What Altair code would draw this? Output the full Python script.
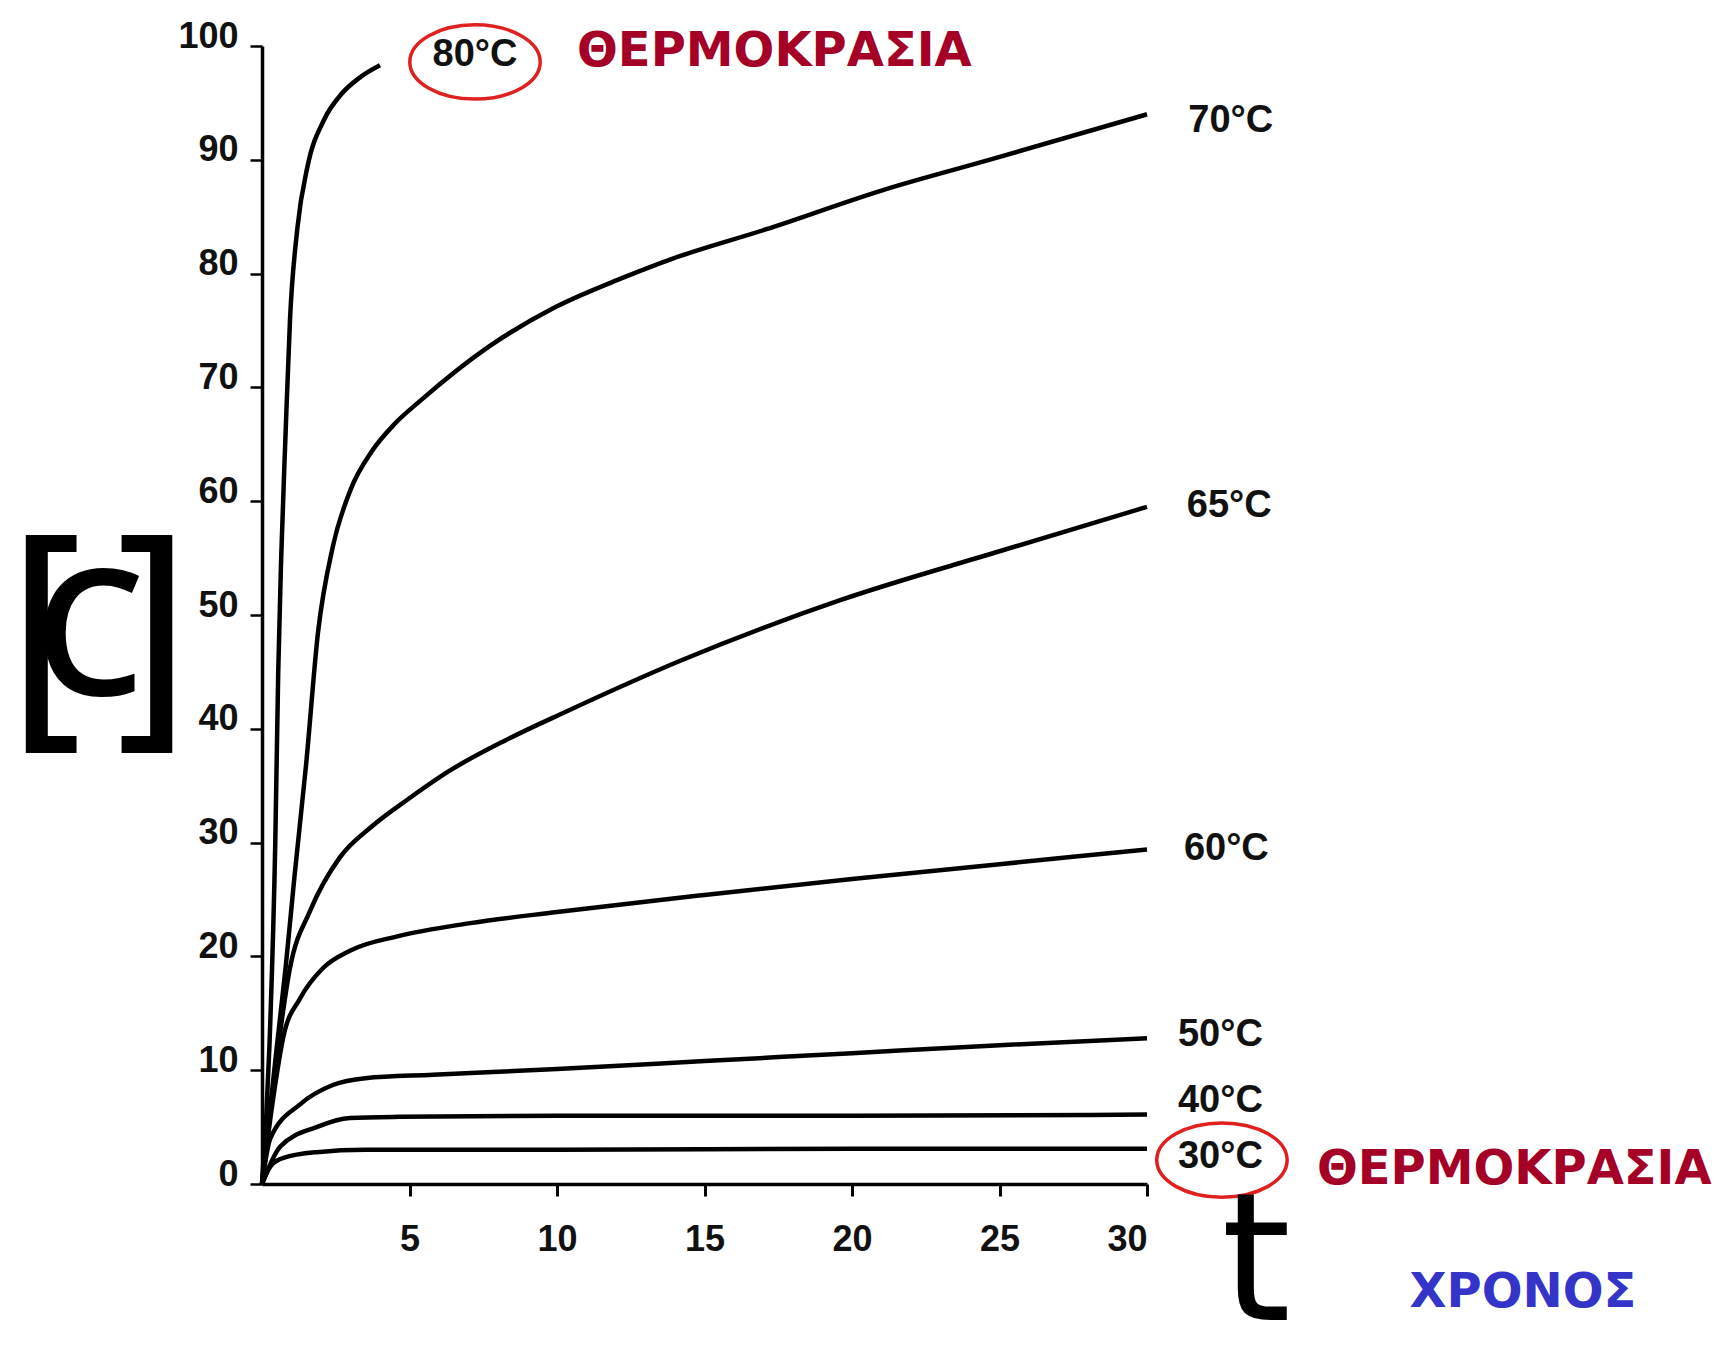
import altair as alt
import pandas as pd

# ---- curve data (time t, concentration C) ----
t80 = [0, 0.25, 0.45, 0.55, 0.65, 0.8, 0.95, 1.2, 1.55, 2.1, 2.7, 3.3, 4.0]
c80 = [0, 12, 30, 45, 55, 66, 76, 84, 89.5, 93.5, 95.8, 97.2, 98.3]

t70 = [0, 0.5, 0.8, 1.1, 1.5, 1.9, 2.4, 3.0, 3.7, 4.5, 5.4, 7.7, 9.9, 12.2, 13.9, 17.1, 21.0, 24.8, 30.0]
c70 = [0, 12, 19, 27, 37, 48.5, 56, 61, 64.3, 66.8, 68.9, 73.6, 77.0, 79.6, 81.3, 83.9, 87.3, 90.1, 94.0]

t65 = [0, 0.4, 0.95, 1.63, 2.64, 3.76, 4.89, 6.35, 8.26, 10.3, 14.2, 19.6, 25.0, 30.0]
c65 = [0, 9, 19, 24, 28.7, 31.5, 33.7, 36.3, 39.0, 41.5, 46, 51.3, 55.6, 59.5]

t60 = [0, 0.35, 0.73, 1.29, 2.08, 2.98, 4.66, 7.0, 10.0, 15.0, 20.0, 25.0, 30.0]
c60 = [0, 7, 13, 16.3, 19, 20.5, 21.8, 22.9, 23.9, 25.4, 26.8, 28.1, 29.4]

t50 = [0, 0.28, 1.29, 2.4, 3.5, 5.8, 10.0, 15.0, 20.0, 25.0, 30.0]
c50 = [0, 4, 7, 8.7, 9.3, 9.6, 10.1, 10.8, 11.5, 12.2, 12.8]

t40 = [0, 0.62, 1.85, 2.98, 4.66, 10.0, 20.0, 30.0]
c40 = [0, 3.3, 5.0, 5.8, 5.9, 6.0, 6.0, 6.1]

t30 = [0, 0.3, 0.73, 1.85, 3.5, 10.0, 20.0, 30.0]
c30 = [0, 1.6, 2.3, 2.8, 3.0, 3.0, 3.1, 3.1]

series = {"80°C": (t80, c80), "70°C": (t70, c70), "65°C": (t65, c65),
          "60°C": (t60, c60), "50°C": (t50, c50), "40°C": (t40, c40),
          "30°C": (t30, c30)}

# curve labels
lab_text = ["80°C", "70°C", "65°C", "60°C", "50°C", "40°C", "30°C"]
lab_x = [7.22, 31.4, 31.35, 31.25, 31.05, 31.05, 31.05]
lab_y = [99.2, 93.4, 59.6, 29.4, 13.1, 7.3, 2.4]
lab_align = ["center", "left", "left", "left", "left", "left", "left"]

# red ellipses around two labels
ell_x = [7.22, 32.54]
ell_y = [98.6, 2.1]

x_ticks = [5, 10, 15, 20, 25, 30]
y_ticks = [0, 10, 20, 30, 40, 50, 60, 70, 80, 90, 100]

rows = []
for name, (ts, cs) in series.items():
    for t, c in zip(ts, cs):
        rows.append({"series": name, "t": t, "c": c})
df = pd.DataFrame(rows)

labels_df = pd.DataFrame({"text": lab_text, "x": lab_x, "y": lab_y, "align": lab_align})
ell_df = pd.DataFrame({"x": ell_x, "y": ell_y})

xs = alt.Scale(domain=[0, 30], nice=False, zero=False)
ys = alt.Scale(domain=[0, 100], nice=False, zero=False)

lines = alt.Chart(df).mark_line(color="black", strokeWidth=4.5, interpolate="monotone").encode(
    x=alt.X("t:Q", scale=xs, axis=alt.Axis(
        values=x_ticks, title=None, grid=False, domainColor="black", domainWidth=3.5,
        tickColor="black", tickWidth=3, tickSize=12, labelPadding=26,
        labelFont="Liberation Sans", labelFontWeight="bold", labelFontSize=36, labelColor="#111")),
    y=alt.Y("c:Q", scale=ys, axis=alt.Axis(
        values=y_ticks, title=None, grid=False, domainColor="black", domainWidth=3.5,
        tickColor="black", tickWidth=2.5, tickSize=12, labelPadding=12, labelOffset=-10,
        labelFont="Liberation Sans", labelFontWeight="bold", labelFontSize=36, labelColor="#111")),
    detail="series:N",
)

lab_left = alt.Chart(labels_df[labels_df["align"] == "left"]).mark_text(
    align="left", baseline="middle", font="Liberation Sans", fontWeight="bold",
    fontSize=38, color="#111").encode(x=alt.X("x:Q", scale=xs), y=alt.Y("y:Q", scale=ys), text="text:N")
lab_center = alt.Chart(labels_df[labels_df["align"] == "center"]).mark_text(
    align="center", baseline="middle", font="Liberation Sans", fontWeight="bold",
    fontSize=38, color="#111").encode(x=alt.X("x:Q", scale=xs), y=alt.Y("y:Q", scale=ys), text="text:N")

ellipse_path = "M -1 0 A 1 0.57 0 1 1 1 0 A 1 0.57 0 1 1 -1 0 Z"
ellipses = alt.Chart(ell_df).mark_point(
    shape=ellipse_path, size=17000, filled=False, stroke="#e0201f", strokeWidth=3.5, opacity=1
).encode(x=alt.X("x:Q", scale=xs), y=alt.Y("y:Q", scale=ys))

# Greek annotations
ann_red_text = ["ΘΕΡΜΟΚΡΑΣΙΑ", "ΘΕΡΜΟΚΡΑΣΙΑ"]
ann_red_x = [10.68, 35.76]
ann_red_y = [99.5, 1.23]
ann_blue_text = ["ΧΡΟΝΟΣ"]
ann_blue_x = [38.9]
ann_blue_y = [-9.6]

red_ann = alt.Chart(pd.DataFrame({"text": ann_red_text, "x": ann_red_x, "y": ann_red_y})).mark_text(
    align="left", baseline="middle", font="DejaVu Sans", fontWeight="bold", fontSize=48, color="#a50026"
).encode(x=alt.X("x:Q", scale=xs), y=alt.Y("y:Q", scale=ys), text="text:N")
blue_ann = alt.Chart(pd.DataFrame({"text": ann_blue_text, "x": ann_blue_x, "y": ann_blue_y})).mark_text(
    align="left", baseline="middle", font="DejaVu Sans", fontWeight="bold", fontSize=48, color="#3434c8"
).encode(x=alt.X("x:Q", scale=xs), y=alt.Y("y:Q", scale=ys), text="text:N")

# big hand-style axis symbols
sym_text = ["[", "C", "]", "t"]
sym_x = [-7.1, -5.85, -3.95, 33.7]
sym_y = [47.2, 47.6, 47.2, -7.3]
sym_size = [245, 175, 245, 178]
sym_df = pd.DataFrame({"text": sym_text, "x": sym_x, "y": sym_y, "fs": sym_size})
brackets = alt.Chart(sym_df[sym_df["text"] != "C"]).mark_text(
    align="center", baseline="middle", font="DejaVu Sans", color="black"
).encode(x=alt.X("x:Q", scale=xs), y=alt.Y("y:Q", scale=ys), text="text:N",
         size=alt.Size("fs:Q", scale=None, legend=None))
letter_c = alt.Chart(sym_df[sym_df["text"] == "C"]).mark_text(
    align="center", baseline="middle", font="Open Sans", fontWeight=600, color="black"
).encode(x=alt.X("x:Q", scale=xs), y=alt.Y("y:Q", scale=ys), text="text:N",
         size=alt.Size("fs:Q", scale=None, legend=None))

chart = alt.layer(lines, lab_left, lab_center, ellipses, red_ann, blue_ann, brackets, letter_c).properties(
    width=885, height=1138,
    autosize=alt.AutoSizeParams(type="none"),
    padding={"left": 254, "top": 38, "right": 568, "bottom": 170},
    background="white",
).configure_view(stroke=None)

chart.save("out.html", embed_options={"renderer": "svg", "actions": False})
